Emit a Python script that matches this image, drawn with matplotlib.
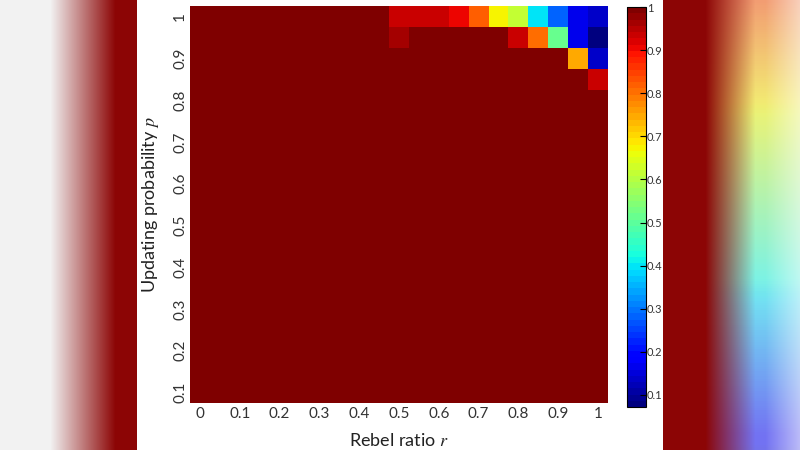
import matplotlib
matplotlib.use("Agg")
import matplotlib.pyplot as plt
import numpy as np

# grid axes
rebel_ratio = [0.0, 0.05, 0.1, 0.15, 0.2, 0.25, 0.3, 0.35, 0.4, 0.45, 0.5,
               0.55, 0.6, 0.65, 0.7, 0.75, 0.8, 0.85, 0.9, 0.95, 1.0]
updating_prob = [0.1, 0.15, 0.2, 0.25, 0.3, 0.35, 0.4, 0.45, 0.5, 0.55,
                 0.6, 0.65, 0.7, 0.75, 0.8, 0.85, 0.9, 0.95, 1.0]

# rows that are not all 1
row_p100 = [1] * 10 + [0.94, 0.94, 0.94, 0.905, 0.82, 0.675, 0.61, 0.405, 0.28, 0.17, 0.13]
row_p095 = [1] * 10 + [0.966, 1, 1, 1, 1, 1, 0.94, 0.80, 0.51, 0.17, 0.075]
row_p090 = [1] * 19 + [0.75, 0.14]
row_p085 = [1] * 20 + [0.94]

x_ticks = [0, 0.1, 0.2, 0.3, 0.4, 0.5, 0.6, 0.7, 0.8, 0.9, 1]
y_ticks = [0.1, 0.2, 0.3, 0.4, 0.5, 0.6, 0.7, 0.8, 0.9, 1]
cbar_ticks = [0.1, 0.2, 0.3, 0.4, 0.5, 0.6, 0.7, 0.8, 0.9, 1]
vmin, vmax = 0.072, 1.0

grid = np.ones((len(updating_prob), len(rebel_ratio)))
grid[updating_prob.index(1.0)] = row_p100
grid[updating_prob.index(0.95)] = row_p095
grid[updating_prob.index(0.9)] = row_p090
grid[updating_prob.index(0.85)] = row_p085

plt.rcParams["font.family"] = ["Lato", "DejaVu Sans"]
plt.rcParams["mathtext.fontset"] = "stix"

fig = plt.figure(figsize=(8, 4.5), dpi=100)

# blurred backdrop behind the white panel
H, W = 450, 800
xs = np.arange(W)[None, :]
ys = np.arange(H)[:, None]
white = np.array([0.95, 0.95, 0.95])
red = np.array([0.55, 0.02, 0.02])
jet = plt.get_cmap("jet")
t = 0.82 - 0.72 * (ys[:, 0] / H)
side = jet(t)[:, :3] * 0.5 + 0.45
wl = np.clip((xs - 50) / 65.0, 0, 1)[..., None]
bg = white * (1 - wl) + red * wl
wr = np.clip((xs - 705) / 50.0, 0, 1)[..., None]
wr2 = np.clip((xs - 765) / 40.0, 0, 1)[..., None]
right = red * (1 - wr) + side[:, None, :] * wr
right = right * (1 - 0.6 * wr2) + 0.6 * wr2
bg = np.where(xs[..., None] >= 663, right, bg)
bg[:, 137:663] = 1.0
bax = fig.add_axes([0, 0, 1, 1])
bax.imshow(bg, aspect="auto", interpolation="bilinear")
bax.axis("off")

cmap = plt.get_cmap("jet", 64)
ax = fig.add_axes([190 / 800, 1 - 403 / 450, 418 / 800, 397 / 450])
im = ax.imshow(grid, origin="lower", cmap=cmap, vmin=vmin, vmax=vmax,
               aspect="auto", interpolation="nearest",
               extent=[-0.025, 1.025, 0.075, 1.025])
for s in ax.spines.values():
    s.set_visible(False)
ax.set_xticks(x_ticks)
ax.set_xticklabels([f"{v:g}" for v in x_ticks])
ax.set_yticks(y_ticks)
ax.set_yticklabels([f"{v:g}" for v in y_ticks], rotation=90, va="center")
ax.tick_params(axis="x", length=0, labelsize=11, labelcolor="#333333", pad=3)
ax.tick_params(axis="y", length=0, labelsize=11, labelcolor="#333333", pad=2)
ax.set_xlabel(r"Rebel ratio $r$", fontsize=13, color="#222222", labelpad=8)
ax.set_ylabel(r"Updating probability $p$", fontsize=13, color="#222222", labelpad=9)

cax = fig.add_axes([627 / 800, 1 - 407 / 450, 19 / 800, 400 / 450])
cb = fig.colorbar(im, cax=cax, ticks=cbar_ticks)
cb.ax.set_yticklabels([f"{v:g}" for v in cbar_ticks])
cb.ax.tick_params(direction="in", length=4, width=0.8, labelsize=8,
                  labelcolor="#333333", pad=0.5)
cb.outline.set_linewidth(0.8)

fig.savefig("out.png", dpi=100)
